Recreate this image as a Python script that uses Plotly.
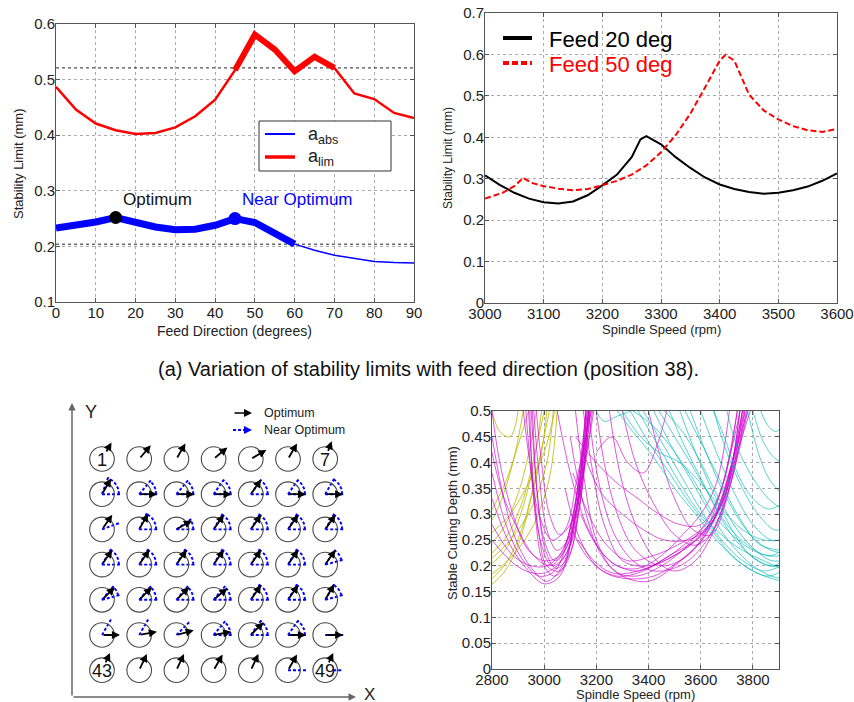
import math
import plotly.graph_objects as go

W, H = 854, 702
FONT = "Liberation Sans, Arial, sans-serif"

# ---------------- Panel 1: stability limit vs feed direction ----------------
feed_deg = [0, 5, 10, 15, 20, 25, 30, 35, 40, 45, 50, 55, 60, 65, 70, 75, 80, 85, 90]
a_lim = [0.487, 0.446, 0.421, 0.409, 0.402, 0.404, 0.414, 0.434, 0.464, 0.517,
         0.581, 0.554, 0.515, 0.541, 0.521, 0.475, 0.465, 0.440, 0.431]
a_abs = [0.233, 0.238, 0.244, 0.252, 0.243, 0.235, 0.230, 0.231, 0.238, 0.250,
         0.243, 0.225, 0.204, 0.193, 0.184, 0.178, 0.173, 0.171, 0.170]
lim_thick_range = (45, 70)
abs_thick_range = (0, 60)
threshold_lim = 0.521
threshold_abs = 0.204
opt_point = (15, 0.252)
near_point = (45, 0.250)

# ---------------- Panel 2: stability limit vs spindle speed ----------------
speed20 = [3000, 3025, 3050, 3075, 3100, 3125, 3150, 3175, 3200, 3225, 3250, 3265, 3275,
           3300, 3325, 3350, 3375, 3400, 3425, 3450, 3475, 3500, 3525, 3550, 3575, 3600]
feed20 = [0.308, 0.285, 0.266, 0.252, 0.243, 0.240, 0.245, 0.260, 0.284, 0.310, 0.352, 0.395, 0.403,
          0.383, 0.352, 0.326, 0.303, 0.286, 0.275, 0.268, 0.264, 0.266, 0.272, 0.281, 0.295, 0.313]
speed50 = [3000, 3030, 3050, 3065, 3080, 3100, 3125, 3150, 3175, 3200, 3225, 3250, 3275, 3300,
           3325, 3350, 3375, 3400, 3410, 3425, 3450, 3475, 3500, 3525, 3550, 3575, 3600]
feed50 = [0.252, 0.266, 0.282, 0.302, 0.290, 0.282, 0.276, 0.272, 0.275, 0.284, 0.295, 0.310, 0.332, 0.364,
          0.405, 0.457, 0.520, 0.585, 0.599, 0.585, 0.503, 0.465, 0.443, 0.427, 0.417, 0.413, 0.420]

# ---------------- Panel 3: feed directions per position (degrees) ----------------
opt_angles = [60, 50, 60, 40, 30, 60, 70,
              60, 0, 0, 0, 55, 0, 0,
              55, 60, 30, 55, 55, 55, 55,
              55, 55, 55, 55, 55, 55, 55,
              45, 45, 45, 40, 55, 55, 60,
              0, 10, 15, 10, 45, 0, 0,
              65, 65, 65, 60, 65, 60, 65]
near_sectors = [None, None, None, None, None, None, None,
                (0, 70), (0, 50), (0, 50), (0, 55), (0, 55), (0, 55), (0, 60),
                (20, 20), (0, 65), (0, 35), (0, 60), (0, 60), (0, 60), (0, 60),
                (0, 60), (0, 60), (0, 60), (0, 60), (0, 60), (0, 60), (15, 55),
                (15, 50), (0, 50), (0, 50), (0, 50), (0, 60), (0, 60), (15, 60),
                (60, 60), (60, 60), (45, 45), (0, 50), (0, 55), (0, 55), (0, 0),
                None, None, None, None, None, (0, 0), (0, 0)]
position_labels = {0: "1", 6: "7", 42: "43", 48: "49"}

# ---------------- Panel 4: stable cutting depth curves (rpm, mm) ----------------
yellow_curves = [
    [(2790, 0.16), (2850, 0.19), (2900, 0.24), (2950, 0.33), (2990, 0.42), (3010, 0.5)],
    [(2790, 0.17), (2860, 0.21), (2920, 0.28), (2970, 0.38), (3020, 0.5)],
    [(2790, 0.20), (2850, 0.23), (2910, 0.30), (2960, 0.40), (2990, 0.5)],
    [(2790, 0.22), (2860, 0.26), (2920, 0.33), (2970, 0.43), (3000, 0.5)],
    [(2790, 0.24), (2840, 0.27), (2900, 0.34), (2950, 0.44), (2970, 0.5)],
    [(2790, 0.18), (2880, 0.22), (2960, 0.28), (3020, 0.37), (3050, 0.5)],
    [(2790, 0.28), (2830, 0.32), (2880, 0.40), (2920, 0.5)],
    [(2790, 0.26), (2870, 0.30), (2940, 0.36), (3000, 0.42), (3040, 0.5)],
    [(2790, 0.21), (2870, 0.25), (2950, 0.31), (3010, 0.40), (3035, 0.5)],
    [(2790, 0.30), (2850, 0.36), (2910, 0.45), (2940, 0.5)],
    [(2800, 0.5), (2830, 0.46), (2870, 0.45), (2900, 0.5)],
]
magenta_curves = [
    [(2940, 0.5), (2960, 0.35), (2990, 0.24), (3030, 0.20), (3080, 0.22), (3120, 0.30), (3160, 0.45), (3175, 0.5)],
    [(2950, 0.5), (2970, 0.36), (3000, 0.25), (3040, 0.21), (3090, 0.24), (3130, 0.33), (3180, 0.5)],
    [(2930, 0.5), (2950, 0.38), (2980, 0.26), (3010, 0.20), (3060, 0.19), (3110, 0.26), (3150, 0.40), (3170, 0.5)],
    [(2960, 0.5), (2980, 0.38), (3010, 0.27), (3050, 0.23), (3100, 0.26), (3150, 0.38), (3185, 0.5)],
    [(2800, 0.45), (2850, 0.32), (2900, 0.24), (2960, 0.19), (3010, 0.17), (3070, 0.20), (3120, 0.30), (3160, 0.5)],
    [(2800, 0.38), (2860, 0.27), (2920, 0.21), (2980, 0.18), (3040, 0.19), (3100, 0.27), (3140, 0.40), (3160, 0.5)],
    [(2800, 0.33), (2870, 0.24), (2940, 0.19), (3000, 0.165), (3060, 0.18), (3110, 0.27), (3150, 0.42), (3165, 0.5)],
    [(2800, 0.28), (2880, 0.22), (2950, 0.20), (3010, 0.20), (3070, 0.23), (3120, 0.32), (3170, 0.5)],
    [(2800, 0.5), (2830, 0.40), (2880, 0.30), (2940, 0.23), (3000, 0.21), (3060, 0.22), (3110, 0.30), (3150, 0.45), (3160, 0.5)],
    [(2920, 0.5), (2945, 0.40), (2980, 0.30), (3030, 0.25), (3080, 0.27), (3130, 0.38), (3180, 0.5)],
    [(2970, 0.5), (2990, 0.40), (3020, 0.30), (3060, 0.26), (3110, 0.29), (3150, 0.38), (3190, 0.5)],
    [(2945, 0.5), (2965, 0.30), (3000, 0.20), (3040, 0.18), (3090, 0.21), (3130, 0.30), (3170, 0.5)],
    [(2800, 0.25), (2870, 0.21), (2930, 0.19), (2990, 0.185), (3050, 0.2), (3100, 0.24), (3140, 0.33), (3170, 0.5)],
    [(2955, 0.5), (2975, 0.33), (3005, 0.23), (3045, 0.195), (3095, 0.22), (3135, 0.31), (3175, 0.5)],
    [(2800, 0.42), (2840, 0.34), (2900, 0.27), (2960, 0.22), (3020, 0.2), (3080, 0.23), (3130, 0.35), (3165, 0.5)],
    [(3120, 0.5), (3150, 0.38), (3200, 0.25), (3270, 0.19), (3350, 0.18), (3450, 0.20), (3550, 0.24), (3650, 0.31), (3720, 0.43), (3750, 0.5)],
    [(3100, 0.45), (3150, 0.32), (3220, 0.22), (3300, 0.18), (3400, 0.17), (3500, 0.20), (3600, 0.25), (3680, 0.35), (3740, 0.5)],
    [(3150, 0.5), (3180, 0.40), (3230, 0.28), (3300, 0.21), (3400, 0.20), (3500, 0.22), (3600, 0.26), (3680, 0.33), (3760, 0.5)],
    [(3080, 0.35), (3130, 0.26), (3200, 0.20), (3280, 0.18), (3380, 0.19), (3480, 0.22), (3580, 0.25), (3660, 0.30), (3730, 0.42), (3770, 0.5)],
    [(3100, 0.28), (3160, 0.22), (3240, 0.185), (3320, 0.175), (3420, 0.18), (3520, 0.21), (3620, 0.26), (3700, 0.36), (3760, 0.5)],
    [(3200, 0.5), (3230, 0.40), (3280, 0.30), (3350, 0.23), (3450, 0.20), (3550, 0.22), (3640, 0.28), (3720, 0.40), (3780, 0.5)],
    [(3250, 0.5), (3290, 0.38), (3350, 0.28), (3430, 0.21), (3500, 0.19), (3580, 0.21), (3660, 0.28), (3740, 0.42), (3790, 0.5)],
    [(3050, 0.5), (3100, 0.38), (3170, 0.27), (3250, 0.21), (3350, 0.19), (3450, 0.21), (3560, 0.25), (3650, 0.29), (3720, 0.38), (3760, 0.5)],
    [(3150, 0.42), (3220, 0.34), (3300, 0.30), (3380, 0.27), (3460, 0.25), (3550, 0.25), (3620, 0.27), (3690, 0.33), (3750, 0.5)],
    [(3120, 0.45), (3200, 0.40), (3280, 0.36), (3360, 0.33), (3440, 0.30), (3520, 0.28), (3600, 0.28), (3680, 0.35), (3740, 0.5)],
    [(3200, 0.42), (3260, 0.45), (3320, 0.40), (3380, 0.38), (3430, 0.43), (3470, 0.5)],
    [(3300, 0.5), (3350, 0.40), (3420, 0.32), (3500, 0.26), (3580, 0.24), (3650, 0.27), (3720, 0.37), (3780, 0.5)],
    [(3400, 0.5), (3440, 0.42), (3500, 0.33), (3570, 0.27), (3640, 0.26), (3700, 0.33), (3770, 0.5)],
    [(3140, 0.30), (3200, 0.24), (3280, 0.20), (3360, 0.195), (3450, 0.22), (3530, 0.26), (3600, 0.30), (3660, 0.36), (3710, 0.5)],
    [(3110, 0.38), (3170, 0.30), (3240, 0.24), (3320, 0.21), (3420, 0.22), (3510, 0.24), (3600, 0.27), (3680, 0.32), (3750, 0.5)],
    [(3130, 0.25), (3200, 0.205), (3270, 0.185), (3360, 0.19), (3460, 0.21), (3560, 0.24), (3640, 0.28), (3710, 0.37), (3765, 0.5)],
    [(3170, 0.5), (3210, 0.36), (3270, 0.26), (3340, 0.21), (3420, 0.19), (3520, 0.2), (3610, 0.24), (3690, 0.32), (3775, 0.5)],
]
cyan_curves = [
    [(3330, 0.5), (3400, 0.44), (3480, 0.38), (3560, 0.32), (3640, 0.27), (3720, 0.22), (3800, 0.19), (3860, 0.18), (3910, 0.19)],
    [(3380, 0.5), (3450, 0.44), (3530, 0.37), (3610, 0.30), (3680, 0.25), (3760, 0.21), (3840, 0.19), (3910, 0.20)],
    [(3420, 0.5), (3490, 0.43), (3570, 0.36), (3650, 0.29), (3720, 0.24), (3800, 0.20), (3870, 0.18), (3910, 0.175)],
    [(3480, 0.5), (3540, 0.43), (3610, 0.36), (3680, 0.29), (3750, 0.24), (3820, 0.21), (3880, 0.20), (3910, 0.21)],
    [(3520, 0.5), (3580, 0.42), (3650, 0.34), (3720, 0.27), (3790, 0.22), (3860, 0.20), (3910, 0.20)],
    [(3560, 0.5), (3620, 0.42), (3690, 0.34), (3760, 0.28), (3830, 0.24), (3910, 0.23)],
    [(3600, 0.5), (3660, 0.42), (3730, 0.34), (3800, 0.28), (3870, 0.25), (3910, 0.25)],
    [(3650, 0.5), (3700, 0.42), (3760, 0.35), (3820, 0.30), (3880, 0.27), (3910, 0.27)],
    [(3700, 0.5), (3740, 0.43), (3800, 0.37), (3860, 0.33), (3910, 0.31)],
    [(3280, 0.5), (3340, 0.46), (3420, 0.41), (3500, 0.35), (3580, 0.30), (3660, 0.25), (3740, 0.21), (3820, 0.185), (3910, 0.17)],
    [(3440, 0.5), (3500, 0.45), (3560, 0.40), (3640, 0.33), (3700, 0.28), (3780, 0.24), (3850, 0.22), (3910, 0.22)],
    [(3340, 0.5), (3420, 0.47), (3500, 0.42), (3580, 0.36), (3650, 0.30), (3720, 0.26), (3800, 0.23), (3870, 0.22), (3910, 0.23)],
    [(3780, 0.5), (3820, 0.42), (3860, 0.37), (3910, 0.34)],
    [(3800, 0.5), (3840, 0.44), (3880, 0.41), (3910, 0.40)],
    [(3830, 0.5), (3860, 0.47), (3890, 0.46), (3910, 0.47)],
    [(3200, 0.5), (3230, 0.48), (3280, 0.49), (3330, 0.5)],
    [(3300, 0.5), (3370, 0.45), (3440, 0.42), (3520, 0.40), (3600, 0.36), (3680, 0.31), (3760, 0.27), (3840, 0.25), (3910, 0.25)],
    [(3650, 0.5), (3690, 0.45), (3740, 0.38), (3800, 0.33), (3860, 0.31), (3910, 0.32)],
    [(3460, 0.5), (3530, 0.46), (3600, 0.40), (3670, 0.33), (3740, 0.27), (3810, 0.23), (3870, 0.21), (3910, 0.21)],
    [(3540, 0.5), (3600, 0.44), (3670, 0.37), (3740, 0.30), (3810, 0.25), (3870, 0.23), (3910, 0.225)],
    [(3360, 0.5), (3440, 0.43), (3520, 0.36), (3600, 0.30), (3680, 0.26), (3760, 0.23), (3840, 0.21), (3910, 0.195)],
]
curve_colors = {"yellow": "rgba(185,185,0,0.8)", "magenta": "rgba(205,0,205,0.65)", "cyan": "rgba(0,185,185,0.65)"}


def px(x):
    return x / W


def py(y):
    return 1 - y / H


fig = go.Figure()

# ---- Panel 1 traces
fig.add_trace(go.Scatter(x=[feed_deg[0], feed_deg[-1]], y=[threshold_lim] * 2, mode="lines",
                         line=dict(color="#222", width=1, dash="dot"), xaxis="x", yaxis="y"))
fig.add_trace(go.Scatter(x=[feed_deg[0], feed_deg[-1]], y=[threshold_abs] * 2, mode="lines",
                         line=dict(color="#222", width=1, dash="dot"), xaxis="x", yaxis="y"))
fig.add_trace(go.Scatter(x=feed_deg, y=a_lim, mode="lines", line=dict(color="#ff0000", width=2.5),
                         xaxis="x", yaxis="y"))
lt = [(x, v) for x, v in zip(feed_deg, a_lim) if lim_thick_range[0] <= x <= lim_thick_range[1]]
fig.add_trace(go.Scatter(x=[p[0] for p in lt], y=[p[1] for p in lt], mode="lines",
                         line=dict(color="#ff0000", width=6), xaxis="x", yaxis="y"))
fig.add_trace(go.Scatter(x=feed_deg, y=a_abs, mode="lines", line=dict(color="#0000ff", width=1.5),
                         xaxis="x", yaxis="y"))
at = [(x, v) for x, v in zip(feed_deg, a_abs) if abs_thick_range[0] <= x <= abs_thick_range[1]]
fig.add_trace(go.Scatter(x=[p[0] for p in at], y=[p[1] for p in at], mode="lines",
                         line=dict(color="#0000ff", width=7), xaxis="x", yaxis="y"))
fig.add_trace(go.Scatter(x=[opt_point[0]], y=[opt_point[1]], mode="markers",
                         marker=dict(color="black", size=13), xaxis="x", yaxis="y"))
fig.add_trace(go.Scatter(x=[near_point[0]], y=[near_point[1]], mode="markers",
                         marker=dict(color="#0000ff", size=13), xaxis="x", yaxis="y"))

# ---- Panel 2 traces
fig.add_trace(go.Scatter(x=speed20, y=feed20, mode="lines", line=dict(color="black", width=2),
                         xaxis="x2", yaxis="y2"))
fig.add_trace(go.Scatter(x=speed50, y=feed50, mode="lines", line=dict(color="#ff0000", width=2, dash="6px,3px"),
                         xaxis="x2", yaxis="y2"))

# ---- Panel 4 traces
for name, curves in (("yellow", yellow_curves), ("magenta", magenta_curves), ("cyan", cyan_curves)):
    for cv in curves:
        fig.add_trace(go.Scatter(x=[p[0] for p in cv], y=[p[1] for p in cv], mode="lines",
                                 line=dict(color=curve_colors[name], width=1, shape="spline", smoothing=1.0),
                                 xaxis="x4", yaxis="y4"))

# ---- Panel 3 diagram (axis units = pixels)
col_x0, col_dx = 102, 37.2
row_y0, row_dy = 459, 35.2
R = 12.3
shapes = []
annotations = []
bx, by = [], []
for idx in range(49):
    r, c = divmod(idx, 7)
    cx = col_x0 + c * col_dx
    cy = row_y0 + r * row_dy
    shapes.append(dict(type="circle", xref="x3", yref="y3", x0=cx - R, x1=cx + R, y0=cy - R, y1=cy + R,
                       line=dict(color="#4a4a4a", width=1.1)))
    numbered = idx in position_labels
    if numbered:
        annotations.append(dict(x=cx, y=cy + 1, xref="x3", yref="y3", text=position_labels[idx],
                                xanchor="center", yanchor="middle",
                                showarrow=False, font=dict(size=18, color="#111", family=FONT)))
    t0, t1 = (7, 19) if numbered else (0, 18)
    a = math.radians(opt_angles[idx])
    annotations.append(dict(x=cx + t1 * math.cos(a), y=cy - t1 * math.sin(a),
                            ax=cx + t0 * math.cos(a), ay=cy - t0 * math.sin(a),
                            xref="x3", yref="y3", axref="x3", ayref="y3", text="", showarrow=True,
                            arrowhead=2, arrowsize=0.9, arrowwidth=1.8, arrowcolor="black"))
    sec = near_sectors[idx]
    if sec is not None:
        n0, n1 = (8, 18) if numbered else (0, 18)
        ends = [sec[0]] if sec[0] == sec[1] else [sec[0], sec[1]]
        for ang in ends:
            b = math.radians(ang)
            bx += [cx + n0 * math.cos(b), cx + n1 * math.cos(b), None]
            by += [cy - n0 * math.sin(b), cy - n1 * math.sin(b), None]
            tx, ty = cx + n1 * math.cos(b), cy - n1 * math.sin(b)
            annotations.append(dict(x=tx, y=ty, ax=tx - 3 * math.cos(b), ay=ty + 3 * math.sin(b),
                                    xref="x3", yref="y3", axref="x3", ayref="y3", text="", showarrow=True,
                                    arrowhead=2, arrowsize=0.9, arrowwidth=1.8, arrowcolor="#0000ff"))
        if sec[0] != sec[1]:
            steps = max(2, int((sec[1] - sec[0]) / 5))
            for k in range(steps + 1):
                b = math.radians(sec[0] + (sec[1] - sec[0]) * k / steps)
                bx.append(cx + 17 * math.cos(b))
                by.append(cy - 17 * math.sin(b))
            bx.append(None)
            by.append(None)

# legend of the diagram
bx += [233, 249, None]
by += [430, 430, None]
fig.add_trace(go.Scatter(x=bx, y=by, mode="lines", line=dict(color="#0000ff", width=1.9, dash="3px,2px"),
                         xaxis="x3", yaxis="y3"))
annotations.append(dict(x=252, y=430, ax=248, ay=430, xref="x3", yref="y3", axref="x3", ayref="y3", text="",
                        showarrow=True, arrowhead=2, arrowsize=1, arrowwidth=1.6, arrowcolor="#0000ff"))
annotations.append(dict(x=252, y=413, ax=233, ay=413, xref="x3", yref="y3", axref="x3", ayref="y3", text="",
                        showarrow=True, arrowhead=2, arrowsize=1, arrowwidth=1.6, arrowcolor="black"))
annotations.append(dict(x=262, y=413, xref="x3", yref="y3", text="Optimum", showarrow=False, xanchor="left",
                        yanchor="middle", font=dict(size=12.5, color="#222", family=FONT)))
annotations.append(dict(x=262, y=430, xref="x3", yref="y3", text="Near Optimum", showarrow=False, xanchor="left",
                        yanchor="middle", font=dict(size=12.5, color="#222", family=FONT)))
# X / Y axis arrows
annotations.append(dict(x=72, y=403, ax=72, ay=697, xref="x3", yref="y3", axref="x3", ayref="y3", text="",
                        showarrow=True, arrowhead=2, arrowsize=1, arrowwidth=1.5, arrowcolor="#666"))
annotations.append(dict(x=356, y=697, ax=72, ay=697, xref="x3", yref="y3", axref="x3", ayref="y3", text="",
                        showarrow=True, arrowhead=2, arrowsize=1, arrowwidth=1.5, arrowcolor="#666"))
annotations.append(dict(x=91, y=412, xref="x3", yref="y3", text="Y", showarrow=False, xanchor="center",
                        yanchor="middle", font=dict(size=18, color="#222", family=FONT)))
annotations.append(dict(x=369, y=694, xref="x3", yref="y3", text="X", showarrow=False, xanchor="center",
                        yanchor="middle", font=dict(size=17, color="#222", family=FONT)))

# ---- Panel 1 legend (manual box)
shapes.append(dict(type="rect", xref="paper", yref="paper", x0=px(259), x1=px(391), y0=py(171), y1=py(121),
                   line=dict(color="#333", width=1), fillcolor="white", layer="above"))
shapes.append(dict(type="line", xref="paper", yref="paper", x0=px(265), x1=px(295), y0=py(134), y1=py(134),
                   line=dict(color="#0000ff", width=2), layer="above"))
shapes.append(dict(type="line", xref="paper", yref="paper", x0=px(265), x1=px(295), y0=py(157), y1=py(157),
                   line=dict(color="#ff0000", width=3.5), layer="above"))
annotations.append(dict(x=px(306), y=py(135), xref="paper", yref="paper", xanchor="left", yanchor="middle",
                        text="a<sub>abs</sub>", showarrow=False, font=dict(size=18, color="#222", family=FONT)))
annotations.append(dict(x=px(306), y=py(158), xref="paper", yref="paper", xanchor="left", yanchor="middle",
                        text="a<sub>lim</sub>", showarrow=False, font=dict(size=18, color="#222", family=FONT)))
annotations.append(dict(x=25.4, y=0.284, xref="x", yref="y", text="Optimum", showarrow=False,
                        xanchor="center", yanchor="middle", font=dict(size=17, color="#111", family=FONT)))
annotations.append(dict(x=60.8, y=0.284, xref="x", yref="y", text="Near Optimum", showarrow=False,
                        xanchor="center", yanchor="middle", font=dict(size=17, color="#0000ff", family=FONT)))

# ---- Panel 2 legend (manual)
shapes.append(dict(type="line", xref="paper", yref="paper", x0=px(503), x1=px(532), y0=py(38), y1=py(38),
                   line=dict(color="black", width=4)))
shapes.append(dict(type="line", xref="paper", yref="paper", x0=px(503), x1=px(532), y0=py(63), y1=py(63),
                   line=dict(color="#ff0000", width=4, dash="6px,3px")))
annotations.append(dict(x=px(547), y=py(39), xref="paper", yref="paper", xanchor="left", yanchor="middle",
                        text="Feed 20 deg", showarrow=False, font=dict(size=22, color="black", family=FONT)))
annotations.append(dict(x=px(547), y=py(64), xref="paper", yref="paper", xanchor="left", yanchor="middle",
                        text="Feed 50 deg", showarrow=False, font=dict(size=22, color="#ff0000", family=FONT)))


# ---- Axis titles
def title_ann(x, y, text, size, rot=0):
    return dict(x=px(x), y=py(y), xref="paper", yref="paper", text=text, showarrow=False, textangle=rot,
                xanchor="center", yanchor="middle", font=dict(size=size, color="#222", family=FONT))


annotations += [
    title_ann(18, 164, "Stability Limit (mm)", 13, -90),
    title_ann(235, 331, "Feed Direction (degrees)", 14),
    title_ann(448, 158, "Stability Limit (mm)", 12, -90),
    title_ann(661, 329, "Spindle Speed (rpm)", 13),
    title_ann(452, 523, "Stable Cutting Depth (mm)", 13, -90),
    title_ann(635, 694, "Spindle Speed (rpm)", 13),
]
annotations.append(dict(x=px(428), y=py(369), xref="paper", yref="paper", xanchor="center", yanchor="middle",
                        text="(a) Variation of stability limits with feed direction (position 38).",
                        showarrow=False, font=dict(size=20, color="#111", family=FONT)))


def ax_style(domain, rng, dtick, anchor):
    return dict(domain=domain, range=rng, dtick=dtick, anchor=anchor, showline=True, mirror="ticks",
                linecolor="#555", linewidth=1, ticks="inside", ticklen=4, tickcolor="#555",
                showgrid=True, gridcolor="#aaa", griddash="dot", gridwidth=1, zeroline=False,
                automargin=False, ticklabelstandoff=-3,
                tickfont=dict(size=15, color="#222", family=FONT))


fig.update_layout(
    width=W, height=H, margin=dict(l=0, r=0, t=0, b=0, pad=0), showlegend=False, autosize=False,
    paper_bgcolor="white", plot_bgcolor="white", hovermode=False,
    xaxis=ax_style([px(56), px(414)], [0, 90], 10, "y"),
    yaxis=ax_style([py(302), py(24)], [0.1, 0.6], 0.1, "x"),
    xaxis2=ax_style([px(485), px(837)], [3000, 3600], 100, "y2"),
    yaxis2=ax_style([py(303), py(13)], [0, 0.7], 0.1, "x2"),
    xaxis3=dict(domain=[0, px(430)], range=[0, 430], visible=False, anchor="y3", automargin=False),
    yaxis3=dict(domain=[0, py(390)], range=[702, 390], visible=False, anchor="x3", automargin=False),
    xaxis4=ax_style([px(492), px(779)], [2800, 3900], 200, "y4"),
    yaxis4=ax_style([py(669), py(411)], [0, 0.5], 0.05, "x4"),
    shapes=shapes, annotations=annotations,
)

fig.write_html("out.html", config={"displayModeBar": False})
